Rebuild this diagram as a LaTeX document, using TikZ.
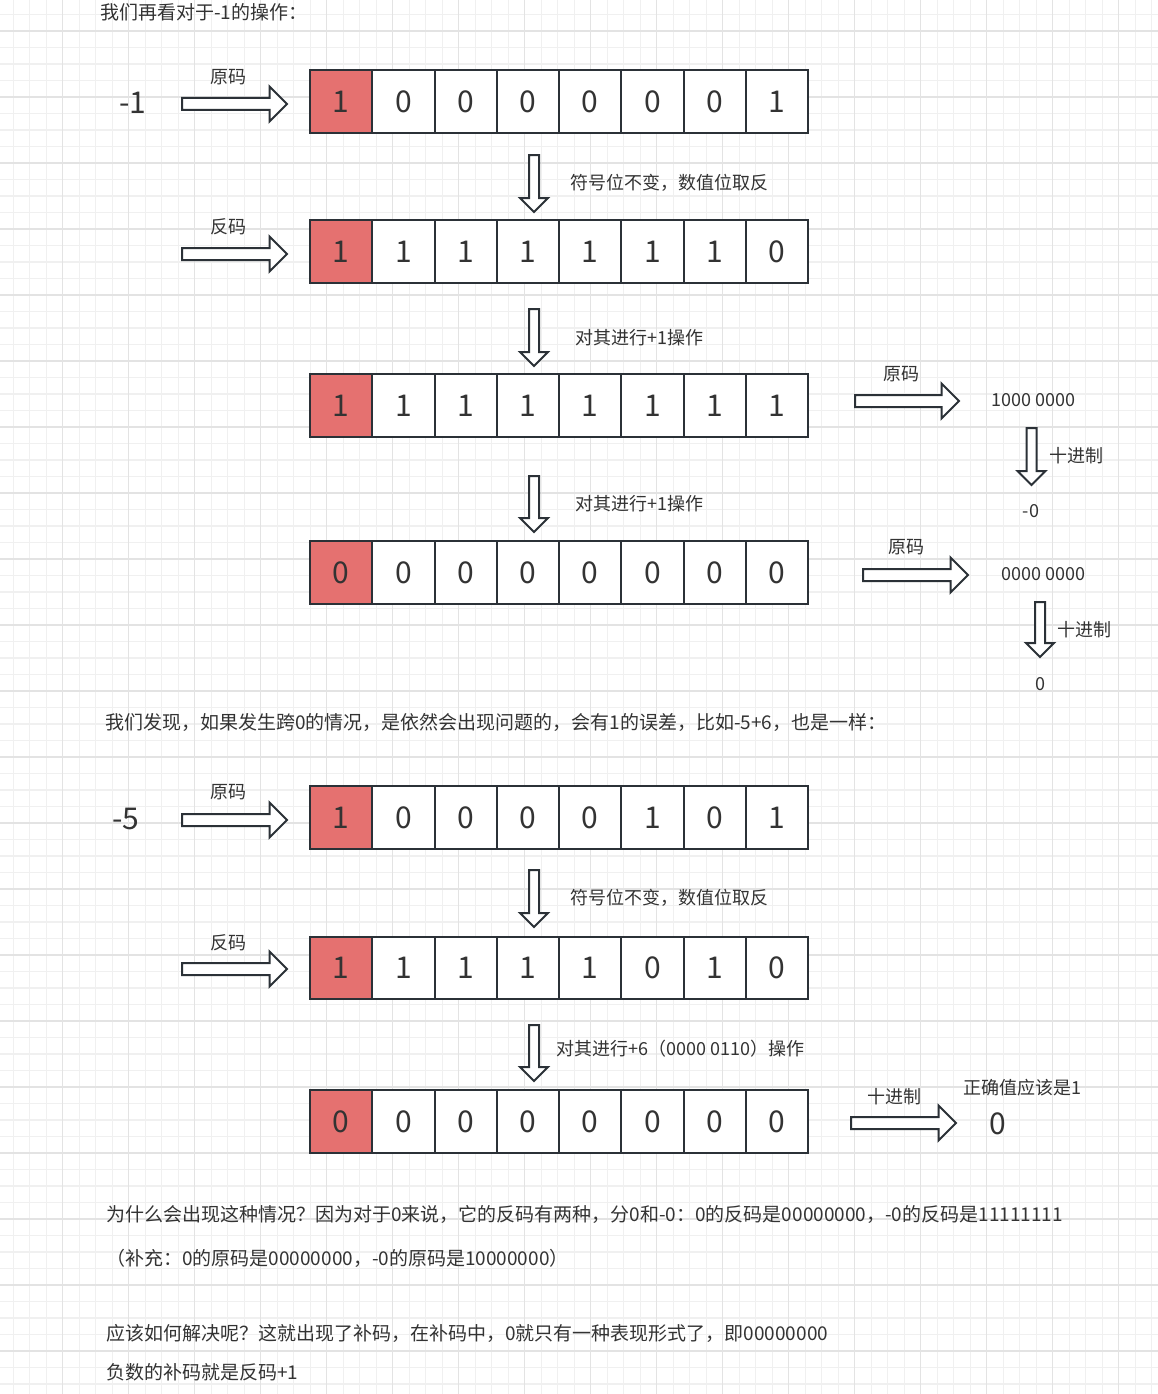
\documentclass[tikz,border=0pt]{standalone}
\usepackage{fontspec}
\setmainfont{Noto Sans CJK SC}
\usetikzlibrary{calc}
\definecolor{gridminor}{HTML}{F0F0F0}
\definecolor{gridmajor}{HTML}{E3E3E3}
\definecolor{ink}{HTML}{2B3137}
\definecolor{txt}{HTML}{333333}
\definecolor{signred}{RGB}{229,113,112}
\tikzset{
  cell/.style={draw=ink, line width=2pt, fill=white, minimum width=62.25pt, minimum height=62.5pt,
    inner sep=0pt, text=txt, font=\fontsize{30}{30}\selectfont},
  signcell/.style={cell, fill=signred},
  lbl/.style={text=txt, inner sep=0pt, font=\fontsize{18}{18}\selectfont},
  para/.style={text=txt, inner sep=0pt, anchor=west, font=\fontsize{19}{19}\selectfont},
  bignum/.style={text=txt, inner sep=0pt, font=\fontsize{30}{30}\selectfont},
  blk/.style={draw=ink, fill=white, line width=2pt, line join=miter},
}
\newcommand\myRarrow[2]{\draw[blk] let \p1=(#1), \p2=(#2) in
  ({\x1},{\y1+6pt}) -- ({\x2-17.5pt},{\y1+6pt}) -- ({\x2-17.5pt},{\y1+17.5pt}) -- ({\x2},{\y1})
  -- ({\x2-17.5pt},{\y1-17.5pt}) -- ({\x2-17.5pt},{\y1-6pt}) -- ({\x1},{\y1-6pt}) -- cycle;}
\newcommand\myDarrow[2]{\draw[blk] let \p1=(#1), \p2=(#2) in
  ({\x1-5pt},{\y1}) -- ({\x1-5pt},{\y2+14pt}) -- ({\x1-14pt},{\y2+14pt}) -- ({\x1},{\y2})
  -- ({\x1+14pt},{\y2+14pt}) -- ({\x1+5pt},{\y2+14pt}) -- ({\x1+5pt},{\y1}) -- cycle;}
\newcommand\bitrow[3]{%
  \foreach \d [count=\i] in {#3} {%
    \ifnum\i=1
      \node[signcell] (#1-\i) at ({310+62.25*(\i-0.5)},#2) {\d};
    \else
      \node[cell] (#1-\i) at ({310+62.25*(\i-0.5)},#2) {\d};
    \fi
  }}
\begin{document}
\begin{tikzpicture}[x=1pt,y=-1pt]
\useasboundingbox (0,0) rectangle (1158,1394);
\fill[white] (0,0) rectangle (1158,1394);
% grid
\foreach \i in {0,...,70} \draw[gridminor, line width=1.1pt] ({13.2+16.5*\i},0) -- ({13.2+16.5*\i},1394);
\foreach \i in {0,...,84} \draw[gridminor, line width=1.1pt] (0,{14.5+16.5*\i}) -- (1158,{14.5+16.5*\i});
\foreach \i in {1,...,17} \draw[gridmajor, line width=1.4pt] ({-3.3+66*\i},0) -- ({-3.3+66*\i},1394);
\foreach \i in {0,...,20} \draw[gridmajor, line width=1.4pt] (0,{31+66*\i}) -- (1158,{31+66*\i});

% ---------- part 1 ----------
\node[para] (t1) at (100,12.5) {我们再看对于-1的操作：};
\node[bignum] (m1) at (133,103) {-1};
\node[lbl] (l1) at (228,77) {原码};
\coordinate (a1s) at (182,104); \coordinate (a1e) at (287,104);
\myRarrow{a1s}{a1e}
\bitrow{r1}{101.5}{1,0,0,0,0,0,0,1}

\coordinate (d1s) at (534,155); \coordinate (d1e) at (534,212);
\myDarrow{d1s}{d1e}
\node[lbl] (l2) at (669.5,182.5) {符号位不变，数值位取反};

\node[lbl] (l3) at (228,227) {反码};
\coordinate (a2s) at (182,254); \coordinate (a2e) at (287,254);
\myRarrow{a2s}{a2e}
\bitrow{r2}{251.5}{1,1,1,1,1,1,1,0}

\coordinate (d2s) at (534,309); \coordinate (d2e) at (534,366);
\myDarrow{d2s}{d2e}
\node[lbl] (l4) at (639.5,338) {对其进行+1操作};

\bitrow{r3}{405.5}{1,1,1,1,1,1,1,1}
\coordinate (a3s) at (855,401); \coordinate (a3e) at (959,401);
\myRarrow{a3s}{a3e}
\node[lbl] (l5) at (901,374) {原码};
\node[lbl] (v1) at (1033.5,400) {1000 0000};
\coordinate (e1s) at (1031.5,428); \coordinate (e1e) at (1031.5,485);
\myDarrow{e1s}{e1e}
\node[lbl] (l6) at (1076,456) {十进制};
\node[lbl] (v2) at (1031,511.5) {-0};

\coordinate (d3s) at (534,476); \coordinate (d3e) at (534,532);
\myDarrow{d3s}{d3e}
\node[lbl] (l7) at (639.5,503.5) {对其进行+1操作};

\bitrow{r4}{572.5}{0,0,0,0,0,0,0,0}
\coordinate (a4s) at (863,575); \coordinate (a4e) at (968,575);
\myRarrow{a4s}{a4e}
\node[lbl] (l8) at (906,547.5) {原码};
\node[lbl] (v3) at (1043,574) {0000 0000};
\coordinate (e2s) at (1040,602); \coordinate (e2e) at (1040,657);
\myDarrow{e2s}{e2e}
\node[lbl] (l9) at (1084,629.5) {十进制};
\node[lbl] (v4) at (1040,684) {0};

% ---------- part 2 ----------
\node[para] (t2) at (105,722) {我们发现，如果发生跨0的情况，是依然会出现问题的，会有1的误差，比如-5+6，也是一样：};
\node[bignum] (m2) at (126,819) {-5};
\node[lbl] (l10) at (228,792) {原码};
\coordinate (a5s) at (182,820); \coordinate (a5e) at (287,820);
\myRarrow{a5s}{a5e}
\bitrow{r5}{817.5}{1,0,0,0,0,1,0,1}

\coordinate (d4s) at (534,870); \coordinate (d4e) at (534,927);
\myDarrow{d4s}{d4e}
\node[lbl] (l11) at (669.5,898) {符号位不变，数值位取反};

\node[lbl] (l12) at (228,943) {反码};
\coordinate (a6s) at (182,969); \coordinate (a6e) at (287,969);
\myRarrow{a6s}{a6e}
\bitrow{r6}{968}{1,1,1,1,1,0,1,0}

\coordinate (d5s) at (534,1025); \coordinate (d5e) at (534,1081);
\myDarrow{d5s}{d5e}
\node[lbl] (l13) at (680.5,1049) {对其进行+6（0000 0110）操作};

\bitrow{r7}{1121.7}{0,0,0,0,0,0,0,0}
\coordinate (a7s) at (851,1123); \coordinate (a7e) at (956,1123);
\myRarrow{a7s}{a7e}
\node[lbl] (l14) at (894.5,1097) {十进制};
\node[lbl] (l15) at (1022.5,1088) {正确值应该是1};
\node[bignum] (v5) at (998,1124) {0};

% ---------- bottom text ----------
\node[para] (t3) at (106,1214) {为什么会出现这种情况？因为对于0来说，它的反码有两种，分0和-0：0的反码是00000000，-0的反码是11111111};
\node[para] (t4) at (106,1258) {（补充：0的原码是00000000，-0的原码是10000000）};
\node[para] (t5) at (106,1333) {应该如何解决呢？这就出现了补码，在补码中，0就只有一种表现形式了，即00000000};
\node[para] (t6) at (106,1372) {负数的补码就是反码+1};
\end{tikzpicture}
\end{document}
